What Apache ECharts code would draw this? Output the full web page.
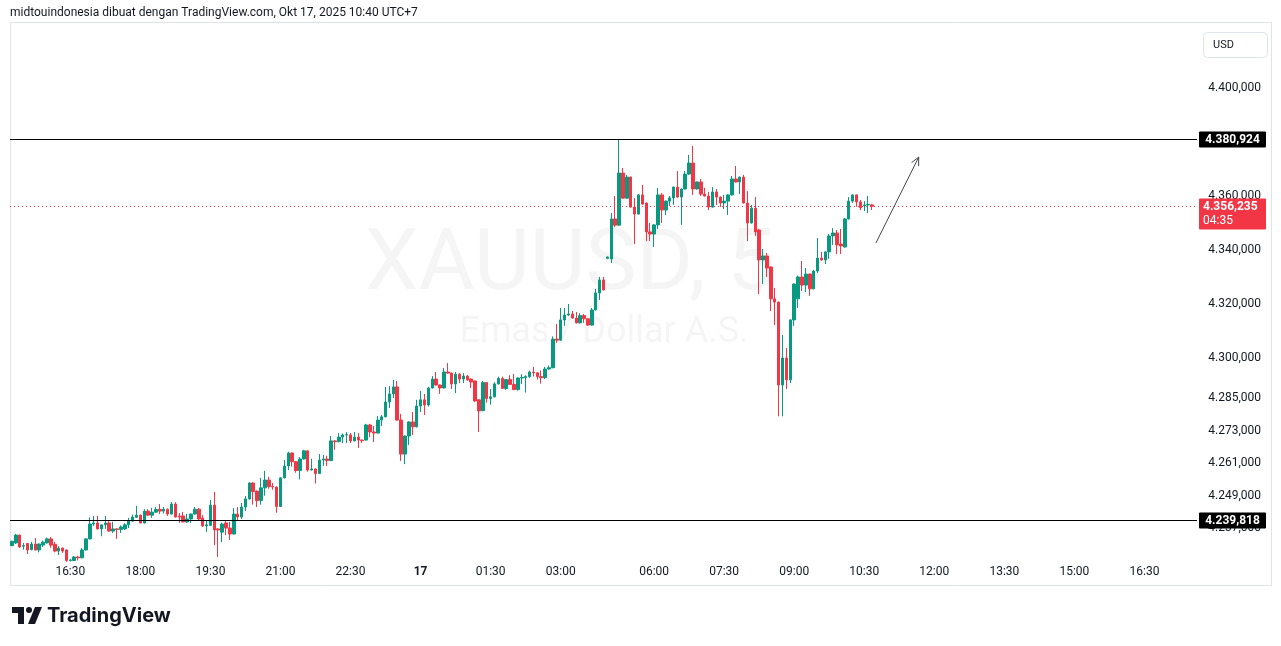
<!DOCTYPE html>
<html><head><meta charset="utf-8">
<script src="https://cdn.jsdelivr.net/npm/echarts@6/dist/echarts.min.js"></script>
<style>html,body{margin:0;padding:0;background:#fff}#c{width:1281px;height:646px}</style>
</head><body><div id="c"></div>
<script>
const opens=[4230.5,4231.5,4234.4,4230.3,4231.3,4229.0,4231.1,4228.9,4230.7,4231.5,4233.0,4231.0,4228.5,4229.6,4228.9,4225.0,4225.0,4226.3,4226.0,4228.9,4233.0,4238.5,4238.9,4236.7,4238.2,4238.9,4235.9,4236.7,4236.5,4236.7,4238.2,4239.6,4241.0,4241.8,4238.9,4243.3,4241.8,4242.9,4243.9,4243.3,4244.0,4242.2,4245.9,4241.5,4241.5,4239.3,4240.4,4242.2,4244.0,4240.7,4237.8,4238.0,4245.5,4236.7,4235.5,4238.9,4237.0,4234.8,4242.2,4241.1,4244.8,4247.8,4253.7,4250.7,4247.2,4251.9,4254.8,4252.4,4252.2,4245.0,4255.6,4260.0,4264.8,4261.6,4258.3,4262.6,4265.6,4258.5,4258.9,4257.2,4262.2,4262.6,4262.0,4269.3,4269.0,4270.7,4271.5,4271.5,4269.3,4270.7,4269.6,4269.6,4275.2,4272.6,4272.2,4277.0,4278.2,4283.7,4286.7,4289.3,4277.0,4264.4,4271.1,4276.3,4274.5,4282.2,4284.5,4282.6,4288.9,4292.2,4290.0,4288.9,4294.8,4294.4,4290.4,4294.0,4292.2,4293.3,4292.2,4291.5,4284.5,4280.5,4290.9,4285.0,4285.6,4290.4,4292.4,4288.7,4292.0,4290.2,4288.3,4292.6,4292.8,4293.1,4294.8,4294.5,4293.1,4292.7,4295.9,4296.4,4307.0,4306.6,4314.1,4315.9,4316.3,4314.8,4313.0,4315.7,4314.5,4312.2,4317.8,4324.1,4328.9,4336.9,4336.7,4351.5,4349.2,4368.5,4359.2,4367.0,4355.9,4353.3,4360.4,4357.4,4346.7,4345.9,4349.3,4360.4,4354.8,4358.1,4359.3,4363.3,4359.6,4362.6,4368.1,4372.2,4362.6,4365.2,4360.7,4360.0,4355.9,4361.5,4359.6,4357.4,4358.1,4360.4,4366.3,4365.2,4367.0,4357.4,4350.0,4355.5,4347.4,4336.3,4337.8,4333.7,4321.9,4320.7,4290.0,4300.0,4291.9,4314.1,4321.9,4330.0,4327.0,4331.1,4325.6,4332.2,4337.0,4336.3,4339.3,4345.2,4346.3,4342.2,4341.1,4351.5,4358.1,4360.4,4357.8,4356.3,4356.7,4356.7];
const closes=[4232.1,4234.4,4230.0,4230.5,4228.9,4231.1,4228.9,4231.1,4231.8,4233.0,4230.7,4228.5,4229.6,4228.5,4225.0,4225.2,4226.3,4226.0,4228.9,4233.0,4238.5,4238.9,4236.7,4238.2,4238.9,4235.9,4236.7,4236.5,4237.4,4238.2,4239.6,4241.1,4241.8,4238.9,4243.3,4241.8,4242.9,4243.9,4243.3,4244.0,4242.2,4245.9,4241.1,4241.1,4239.3,4240.4,4242.2,4244.0,4240.4,4237.8,4238.2,4245.5,4236.3,4236.3,4238.5,4237.0,4234.8,4242.2,4241.1,4244.8,4247.8,4253.7,4250.5,4247.2,4251.9,4254.8,4252.4,4252.2,4245.0,4255.6,4260.0,4264.8,4261.6,4258.3,4262.6,4265.6,4258.5,4258.9,4257.2,4262.2,4262.6,4262.0,4269.3,4269.0,4270.7,4271.5,4271.6,4269.3,4270.7,4269.6,4269.4,4275.2,4272.6,4272.2,4277.0,4278.2,4283.7,4286.7,4289.3,4277.0,4264.4,4271.1,4276.3,4274.5,4282.2,4284.5,4282.6,4288.9,4292.2,4290.0,4288.9,4294.8,4294.4,4290.4,4294.0,4292.2,4293.3,4291.9,4291.1,4284.1,4280.4,4290.9,4285.0,4285.6,4290.4,4292.4,4288.7,4292.0,4290.2,4288.3,4292.6,4292.8,4293.1,4294.8,4294.5,4293.1,4292.7,4295.9,4296.4,4307.0,4306.6,4314.1,4315.9,4316.3,4314.8,4313.0,4315.7,4314.5,4312.2,4317.8,4324.1,4328.9,4325.2,4337.4,4351.5,4349.2,4368.5,4359.2,4367.0,4355.9,4353.3,4360.4,4357.0,4346.7,4345.9,4349.3,4360.4,4354.8,4358.1,4359.3,4363.3,4359.6,4362.6,4368.1,4372.2,4362.6,4365.2,4360.7,4360.0,4355.9,4361.5,4359.6,4357.4,4358.1,4360.4,4366.3,4365.2,4367.0,4357.4,4350.0,4355.5,4346.7,4336.3,4337.8,4333.3,4321.9,4320.7,4290.0,4300.0,4291.9,4314.1,4327.4,4330.0,4327.0,4331.1,4325.6,4332.2,4337.0,4336.3,4339.3,4345.2,4346.3,4341.9,4341.5,4351.5,4358.1,4360.4,4357.8,4355.6,4356.7,4356.9,4356.2];
const lows=[4230.3,4231.1,4229.7,4229.0,4227.4,4228.8,4228.7,4228.0,4230.0,4231.3,4229.7,4228.0,4227.0,4227.8,4224.5,4224.6,4224.8,4225.0,4225.8,4228.7,4232.8,4237.8,4236.5,4234.0,4236.7,4235.7,4235.2,4233.0,4235.2,4236.3,4237.0,4239.4,4240.8,4238.7,4238.7,4241.6,4240.8,4242.7,4242.2,4242.4,4241.5,4242.0,4240.9,4238.9,4239.1,4238.9,4238.9,4242.0,4240.0,4237.4,4235.6,4237.8,4230.7,4226.3,4231.8,4234.4,4232.6,4234.6,4239.6,4240.4,4243.3,4247.6,4245.7,4244.8,4245.7,4249.0,4251.6,4251.2,4242.7,4244.8,4255.4,4258.5,4259.8,4257.5,4255.0,4262.4,4257.9,4258.3,4253.5,4257.0,4260.1,4260.0,4261.8,4266.0,4268.8,4268.5,4268.5,4268.5,4269.1,4266.7,4268.5,4269.4,4270.7,4268.9,4272.0,4274.8,4278.0,4281.5,4285.2,4276.8,4261.9,4260.7,4267.8,4271.5,4274.3,4280.0,4278.9,4282.0,4288.7,4289.8,4286.7,4288.7,4294.2,4288.5,4287.0,4290.7,4290.7,4291.5,4288.9,4283.7,4272.6,4280.3,4283.5,4282.7,4285.4,4290.2,4288.5,4288.2,4290.0,4288.1,4287.9,4290.4,4287.2,4292.6,4293.2,4292.0,4290.5,4292.2,4295.7,4296.2,4305.6,4306.4,4311.9,4315.6,4314.6,4312.8,4312.8,4313.0,4311.9,4312.0,4317.6,4321.5,4325.0,4336.7,4335.2,4348.5,4349.0,4359.0,4359.0,4355.7,4342.2,4353.1,4356.8,4343.3,4343.3,4341.1,4347.8,4350.0,4352.9,4356.3,4356.7,4359.4,4349.3,4362.4,4367.9,4360.4,4362.4,4360.0,4359.8,4354.8,4355.7,4356.7,4355.9,4355.2,4353.0,4360.2,4365.0,4360.7,4357.2,4343.3,4349.8,4345.2,4323.7,4327.4,4330.0,4317.4,4312.2,4278.4,4278.4,4288.5,4290.7,4311.9,4318.5,4324.8,4324.4,4323.0,4325.4,4331.5,4336.0,4334.8,4336.7,4341.9,4338.5,4338.5,4340.9,4351.3,4357.4,4356.0,4354.8,4354.4,4353.7,4354.8];
const highs=[4232.3,4234.8,4234.6,4231.5,4231.5,4231.9,4233.3,4231.3,4232.3,4233.5,4233.7,4231.9,4230.3,4229.8,4229.1,4225.6,4226.6,4226.7,4229.6,4233.2,4241.0,4241.5,4241.5,4238.4,4241.5,4239.6,4239.3,4236.9,4238.0,4238.8,4240.8,4242.0,4245.2,4242.0,4244.0,4244.0,4244.5,4244.8,4245.9,4244.8,4244.2,4246.6,4246.6,4242.6,4243.0,4242.2,4242.4,4244.8,4244.4,4241.8,4239.6,4247.4,4250.4,4236.9,4239.0,4239.6,4239.3,4244.4,4244.8,4246.3,4248.9,4254.0,4254.1,4250.9,4255.6,4258.2,4256.0,4253.7,4252.4,4255.8,4262.2,4265.3,4265.0,4261.8,4263.3,4266.0,4265.8,4262.7,4259.1,4264.4,4264.1,4263.8,4271.1,4269.6,4272.2,4272.0,4272.6,4272.2,4272.6,4272.2,4269.8,4275.6,4275.6,4274.8,4278.5,4278.9,4289.3,4289.6,4291.9,4291.5,4279.3,4271.3,4276.5,4280.0,4284.5,4287.8,4286.7,4289.3,4293.3,4294.8,4290.2,4296.3,4298.1,4294.6,4294.8,4294.4,4294.4,4293.7,4292.4,4291.7,4284.7,4291.5,4291.0,4288.5,4291.0,4293.1,4293.1,4292.2,4293.6,4294.1,4292.8,4294.0,4293.6,4295.3,4296.7,4294.7,4295.4,4296.7,4297.2,4308.0,4312.6,4318.5,4318.5,4320.0,4317.4,4317.0,4316.6,4316.3,4314.7,4318.5,4325.6,4330.0,4330.0,4337.6,4353.7,4360.0,4380.9,4370.4,4367.8,4367.2,4359.2,4360.7,4364.1,4357.6,4350.0,4349.5,4363.0,4361.1,4358.3,4360.0,4363.5,4369.2,4362.8,4369.2,4375.2,4378.5,4365.4,4366.3,4363.0,4361.5,4363.3,4362.6,4359.8,4360.4,4360.6,4367.4,4371.1,4367.2,4367.8,4361.8,4356.7,4359.6,4347.8,4340.4,4338.9,4333.9,4325.9,4320.9,4308.5,4303.7,4314.3,4327.6,4330.5,4335.9,4333.3,4331.3,4332.6,4344.4,4339.3,4339.5,4346.0,4348.1,4347.4,4347.8,4351.9,4359.6,4360.6,4360.6,4358.5,4358.1,4360.0,4357.1];
const tickTimes=['16:30','18:00','19:30','21:00','22:30','00:00','01:30','03:00','06:00','07:30','09:00','10:30','12:00','13:30','15:00'];
const yTicks=[4400,4360,4340,4320,4300,4285,4273,4261,4249,4237];
const resistance=4380.924, support=4239.818, lastPrice=4356.235;
const arrowFrom=[222,4342.6], arrowTo=[232.6,4374.4];

const cats=[];
const totalSlots=305;
for(let i=0;i<totalSlots;i++){
  let t, d;
  if(i<=152){t=915+5*i; d=16; if(t>=1440){t-=1440; d=17;}}
  else {t=300+5*(i-153); d=17; if(t>=1440){t-=1440;d=18;}}
  const hh=String(Math.floor(t/60)).padStart(2,'0'), mm=String(t%60).padStart(2,'0');
  cats.push(d+' '+hh+':'+mm);
}
const data=opens.map((o,i)=>[o,closes[i],lows[i],highs[i]]);
const fmt=v=>{const s=v.toFixed(3).split('.');return s[0].replace(/\B(?=(\d{3})+(?!\d))/g,'.')+','+s[1];};

const chart=echarts.init(document.getElementById('c'));
chart.setOption({
  animation:false,
  backgroundColor:'#ffffff',
  grid:{left:10,right:84,top:25,bottom:83},
  xAxis:{type:'category',data:cats,boundaryGap:true,
    axisLine:{show:false},axisTick:{show:false},splitLine:{show:false},
    axisLabel:{margin:3,color:'#131722',fontSize:12,fontFamily:'Roboto, sans-serif',
      interval:(idx,val)=>tickTimes.includes(val.slice(3)),
      formatter:v=>{const t=v.slice(3);return t==='00:00'?'{b|17}':t;},
      rich:{b:{fontWeight:'bold',fontSize:12,color:'#131722'}}}},
  yAxis:{type:'value',position:'right',min:4224.07,max:4423.33,scale:true,
    axisLabel:{show:false},axisLine:{show:false},axisTick:{show:false},splitLine:{show:false}},
  series:[{type:'candlestick',data:data,barWidth:3,
    itemStyle:{color:'#089981',color0:'#f23645',borderColor:'#089981',borderColor0:'#f23645',borderWidth:1}}]
});

const py=v=>chart.convertToPixel({yAxisIndex:0},v);
const g=[];
g.push({type:'text',z:-10,style:{text:'XAUUSD, 5',x:570,y:267,fill:'rgba(19,23,34,0.045)',font:'86px Roboto, sans-serif',textAlign:'center',textVerticalAlign:'middle'}});
g.push({type:'text',z:-10,style:{text:'Emas / Dollar A.S.',x:604,y:333,fill:'rgba(19,23,34,0.045)',font:'36px Roboto, sans-serif',textAlign:'center',textVerticalAlign:'middle'}});
g.push({type:'rect',shape:{x:10.5,y:22.5,width:1261,height:563},style:{fill:'none',stroke:'#e0e3eb',lineWidth:1},z:-5});
g.push({type:'text',style:{text:'midtouindonesia dibuat dengan TradingView.com, Okt 17, 2025 10:40 UTC+7',x:10,y:13,fill:'#131722',font:'12px Roboto, sans-serif',textVerticalAlign:'middle'}});
g.push({type:'rect',shape:{x:1203.5,y:32.5,width:64,height:25,r:4},style:{fill:'#fff',stroke:'#e0e3eb',lineWidth:1}});
g.push({type:'text',style:{text:'USD',x:1213,y:45,fill:'#131722',font:'11px Roboto, sans-serif',textVerticalAlign:'middle'}});
yTicks.forEach(v=>g.push({type:'text',z:1,style:{text:fmt(v),x:1261,y:py(v),fill:'#131722',font:'12px Roboto, sans-serif',textAlign:'right',textVerticalAlign:'middle'}}));
[resistance,support].forEach(v=>{const y=Math.round(py(v))+0.5;
  g.push({type:'line',z:5,shape:{x1:10,y1:y,x2:1197,y2:y},style:{stroke:'#000',lineWidth:1.2}});
  g.push({type:'rect',z:6,shape:{x:1199,y:y-8,width:67,height:16,r:1},style:{fill:'#000'}});
  g.push({type:'text',z:7,style:{text:fmt(v),x:1232.5,y:y,fill:'#fff',font:'bold 12px Roboto, sans-serif',textAlign:'center',textVerticalAlign:'middle'}});
});
{const y=Math.round(py(lastPrice))+0.5;
  g.push({type:'line',z:4,shape:{x1:10,y1:y,x2:1197,y2:y},style:{stroke:'#f23645',lineWidth:1,lineDash:[1,3]}});
  g.push({type:'rect',z:6,shape:{x:1199,y:y-8,width:67,height:31,r:1},style:{fill:'#f23645'}});
  g.push({type:'text',z:7,style:{text:fmt(lastPrice),x:1203,y:y,fill:'#fff',font:'bold 12px Roboto, sans-serif',textVerticalAlign:'middle'}});
  g.push({type:'text',z:7,style:{text:'04:35',x:1203,y:y+14,fill:'#fff',font:'12px Roboto, sans-serif',textVerticalAlign:'middle'}});
}
{const a=chart.convertToPixel({gridIndex:0},arrowFrom), b=chart.convertToPixel({gridIndex:0},arrowTo);
  const ang=Math.atan2(b[1]-a[1],b[0]-a[0]), L=9;
  g.push({type:'line',z:5,shape:{x1:a[0],y1:a[1],x2:b[0],y2:b[1]},style:{stroke:'#434651',lineWidth:1}});
  [ang+Math.PI-0.45,ang+Math.PI+0.45].forEach(t=>g.push({type:'line',z:5,shape:{x1:b[0],y1:b[1],x2:b[0]+L*Math.cos(t),y2:b[1]+L*Math.sin(t)},style:{stroke:'#434651',lineWidth:1}}));
}
g.push({type:'rect',shape:{x:12,y:607,width:12,height:6},style:{fill:'#131722'}});
g.push({type:'rect',shape:{x:18,y:607,width:6,height:17},style:{fill:'#131722'}});
g.push({type:'circle',shape:{cx:29,cy:610,r:3},style:{fill:'#131722'}});
g.push({type:'polygon',shape:{points:[[35,607],[42,607],[35,624],[28,624]]},style:{fill:'#131722'}});
g.push({type:'text',style:{text:'TradingView',x:47,y:616,fill:'#131722',font:'bold 20px Inter, Roboto, sans-serif',textVerticalAlign:'middle'}});
chart.setOption({graphic:g});
</script></body></html>
